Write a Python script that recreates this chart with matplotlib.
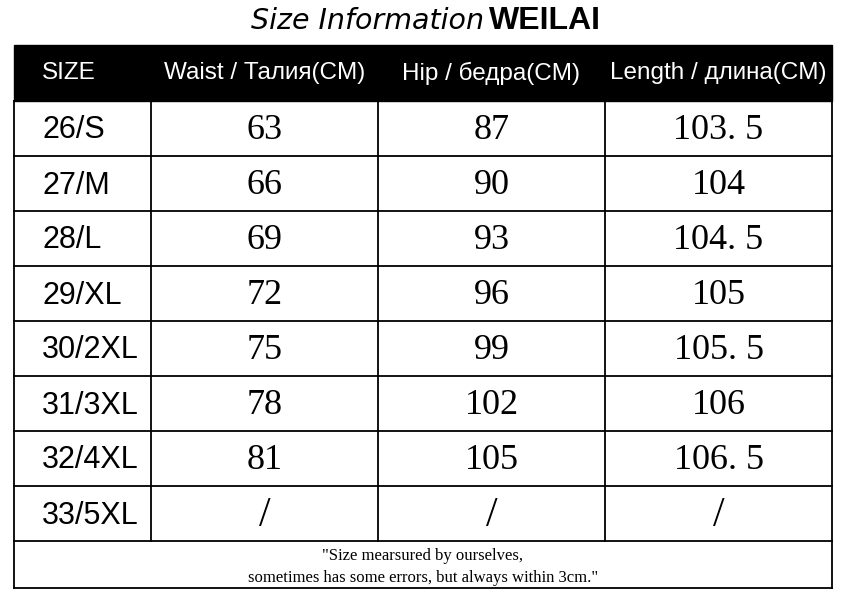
import matplotlib.pyplot as plt
from matplotlib.patches import Rectangle

sizes = ["26/S", "27/M", "28/L", "29/XL", "30/2XL", "31/3XL", "32/4XL", "33/5XL"]
waist = ["63", "66", "69", "72", "75", "78", "81", "/"]
hip = ["87", "90", "93", "96", "99", "102", "105", "/"]
length = ["103. 5", "104", "104. 5", "105", "105. 5", "106", "106. 5", "/"]
headers = ["SIZE", "Waist / Талия(CM)", "Hip / бедра(CM)", "Length / длина(CM)"]
note = "\"Size mearsured by ourselves,\nsometimes has some errors, but always within 3cm.\""

# layout in pixel units
col_x = [14, 151, 378, 605, 832]
top = 45
head_h = 56
row_h = 55
foot_h = 47

fig = plt.figure(figsize=(8.42, 6.01), dpi=100)
ax = fig.add_axes([0, 0, 1, 1])
ax.set_xlim(0, 842)
ax.set_ylim(601, 0)
ax.axis("off")

# title
ax.text(484, 21, "Size Information", ha="right", va="center", fontsize=20.5,
        family="DejaVu Sans", style="italic", fontweight="light")
ax.text(489, 21, "WEILAI", ha="left", va="center", fontsize=23,
        family="Liberation Sans", fontweight="bold")

# header band
ax.add_patch(Rectangle((col_x[0], top), col_x[-1] - col_x[0], head_h, color="black"))
head_y = top + head_h / 2
ax.text(42, head_y, headers[0], ha="left", va="center", color="white",
        fontsize=17.5, family="Liberation Sans")
for i, h in enumerate(headers[1:], start=1):
    ax.text((col_x[i] + col_x[i + 1]) / 2, head_y, h, ha="center", va="center",
            color="white", fontsize=17.5, family="Liberation Sans")

body_top = top + head_h
body_bot = body_top + row_h * len(sizes)
foot_bot = body_bot + foot_h

# grid lines
lw = 1.3
for k in range(len(sizes) + 1):
    y = body_top + k * row_h
    ax.plot([col_x[0], col_x[-1]], [y, y], color="black", lw=lw)
ax.plot([col_x[0], col_x[-1]], [foot_bot, foot_bot], color="black", lw=lw)
for x in col_x:
    ax.plot([x, x], [body_top, body_bot], color="black", lw=lw)
for x in (col_x[0], col_x[-1]):
    ax.plot([x, x], [body_bot, foot_bot], color="black", lw=lw)

# body cells
for r, s in enumerate(sizes):
    y = body_top + r * row_h + row_h / 2 + 2
    ax.text(42, y, s, ha="left", va="center", fontsize=22, family="Liberation Sans")
    for c, vals in enumerate([waist, hip, length], start=1):
        v = vals[r]
        fs = 30 if v == "/" else 26
        ax.text((col_x[c] + col_x[c + 1]) / 2, y, v, ha="center", va="center",
                fontsize=fs, family="Liberation Serif", fontweight="light")

# footnote
ax.text((col_x[0] + col_x[-1]) / 2, (body_bot + foot_bot) / 2 + 2, note, ha="center",
        va="center", fontsize=12, family="Liberation Serif", linespacing=1.5)

fig.savefig("out.png", dpi=100)
